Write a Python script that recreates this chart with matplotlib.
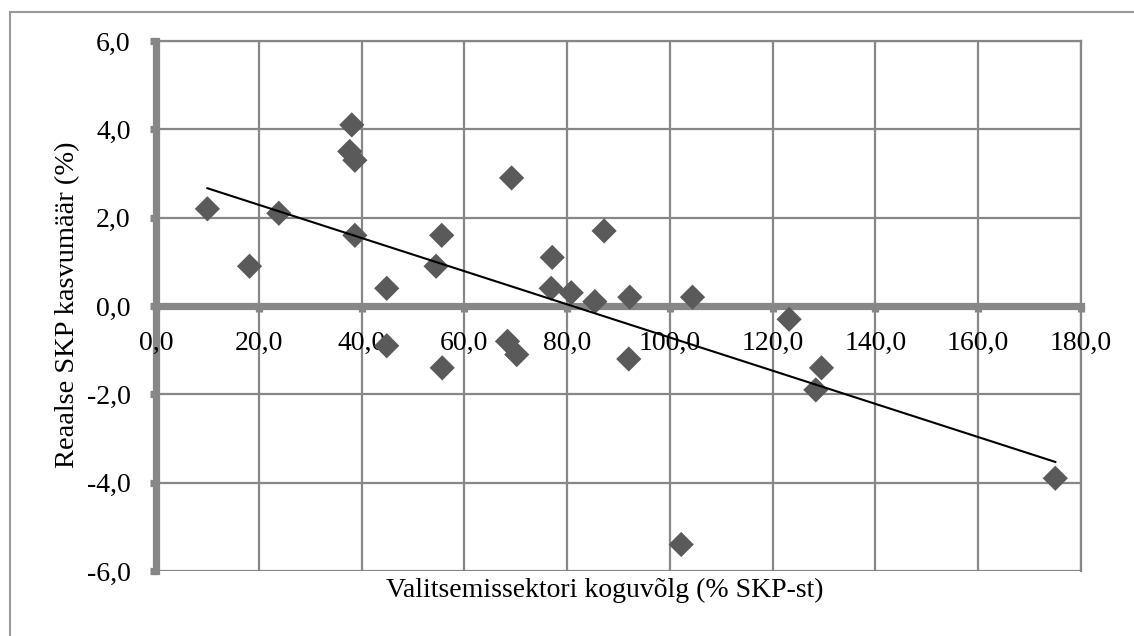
import numpy as np
import matplotlib
matplotlib.use("Agg")
import matplotlib.pyplot as plt
from matplotlib.lines import Line2D

# Data: government debt (% of GDP) vs real GDP growth (%)
debt = [10.0, 18.2, 23.9, 38.1, 37.7, 38.7, 38.7, 44.9, 44.9, 54.5,
        55.6, 55.7, 69.2, 68.4, 70.2, 77.1, 76.9, 80.8, 85.4, 87.2,
        92.2, 92.0, 104.4, 102.2, 123.2, 128.4, 129.5, 175.0]
growth = [2.2, 0.9, 2.1, 4.1, 3.5, 3.3, 1.6, 0.4, -0.9, 0.9,
          1.6, -1.4, 2.9, -0.8, -1.1, 1.1, 0.4, 0.3, 0.1, 1.7,
          0.2, -1.2, 0.2, -5.4, -0.3, -1.9, -1.4, -3.9]
x_ticks = [0, 20, 40, 60, 80, 100, 120, 140, 160, 180]
y_ticks = [-6, -4, -2, 0, 2, 4, 6]
x_title = "Valitsemissektori koguvõlg (% SKP-st)"
y_title = "Reaalse SKP kasvumäär (%)"

W, H = 1134, 636
fig = plt.figure(figsize=(W / 100, H / 100), dpi=100)
plt.rcParams['font.family'] = ['Liberation Serif', 'DejaVu Serif']

left, right, top, bottom = 156, 1081, 41, 571
ax = fig.add_axes([left / W, 1 - bottom / H, (right - left) / W, (bottom - top) / H])

grey = '#878787'
ax.set_xlim(0, 180)
ax.set_ylim(-6, 6)
ax.set_xticks(x_ticks)
ax.set_yticks(y_ticks)
ax.set_xticklabels([f"{v:.1f}".replace('.', ',') for v in x_ticks])
ax.set_yticklabels([f"{v:.1f}".replace('.', ',') for v in y_ticks])
ax.grid(True, color=grey, linewidth=1.6)
ax.xaxis.set_zorder(2.6)
ax.yaxis.set_zorder(2.6)

ax.spines['bottom'].set_position(('data', 0))
ax.spines['bottom'].set_linewidth(5.2)
ax.spines['bottom'].set_color(grey)
ax.spines['left'].set_linewidth(5.2)
ax.spines['left'].set_color(grey)
for s in ('top', 'right'):
    ax.spines[s].set_linewidth(1.6)
    ax.spines[s].set_color(grey)

ax.tick_params(axis='both', direction='out', length=4, width=5.2, color=grey,
               labelsize=20, labelcolor='black')
ax.tick_params(axis='x', pad=14)
ax.tick_params(axis='y', pad=14.2)

ax.scatter(debt, growth, marker='D', s=165, color='#5a5a5a', edgecolors='none', zorder=3)

# Linear trend line
coef = np.polyfit(debt, growth, 1)
xs = np.array([min(debt), max(debt)])
ax.plot(xs, np.polyval(coef, xs), color='black', linewidth=1.5, zorder=4)

ax.text(0.485, -0.012, x_title, transform=ax.transAxes, ha='center', va='top', fontsize=20)
fig.text(68 / W, 1 - 305 / H, y_title, rotation=90, ha='center', va='center', fontsize=20.5)

# Outer chart border
fig.add_artist(Line2D([9.5 / W, 9.5 / W], [0, 1 - 12 / H], color='#9a9a9a', linewidth=1.5,
                      transform=fig.transFigure))
fig.add_artist(Line2D([9.5 / W, 1], [1 - 12 / H, 1 - 12 / H], color='#9a9a9a', linewidth=1.5,
                      transform=fig.transFigure))

fig.savefig("out.png", dpi=100)
